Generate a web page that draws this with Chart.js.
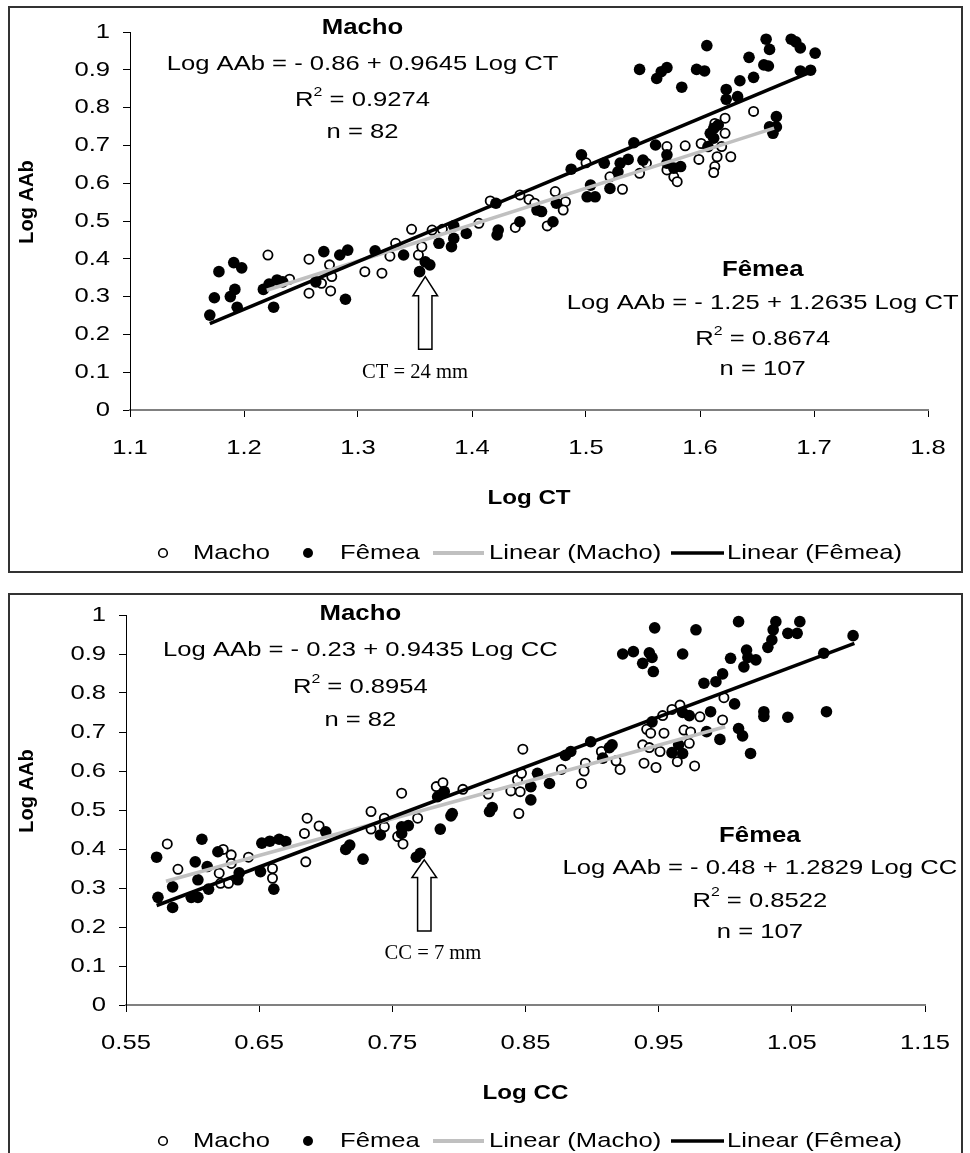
<!DOCTYPE html>
<html>
<head>
<meta charset="utf-8">
<script src="https://cdn.jsdelivr.net/npm/chart.js@4.4.1/dist/chart.umd.min.js"></script>
<style>
  body { margin: 0; background: #fff; }
  canvas { display: block; }
</style>
</head>
<body>
<canvas id="ctChart" width="970" height="583"></canvas>
<canvas id="ccChart" width="970" height="570"></canvas>
<script>
// Log AAb against Log CT (carapace width) and Log CC (carapace length)
const aabTicks = ['0', '0.1', '0.2', '0.3', '0.4', '0.5', '0.6', '0.7', '0.8', '0.9', '1']
const ctTicks = ['1.1', '1.2', '1.3', '1.4', '1.5', '1.6', '1.7', '1.8']
const ccTicks = ['0.55', '0.65', '0.75', '0.85', '0.95', '1.05', '1.15']

// [Log CT, Log AAb]
const ctMacho = [
  [1.221, 0.410], [1.240, 0.346], [1.257, 0.399], [1.257, 0.309], [1.275, 0.384], [1.277, 0.353],
  [1.276, 0.315], [1.268, 0.335], [1.306, 0.366], [1.321, 0.362], [1.333, 0.441], [1.328, 0.407],
  [1.353, 0.410], [1.347, 0.478], [1.356, 0.432], [1.365, 0.476], [1.374, 0.478], [1.406, 0.494],
  [1.416, 0.553], [1.442, 0.569], [1.450, 0.557], [1.438, 0.483], [1.647, 0.790], [1.622, 0.772],
  [1.613, 0.758], [1.622, 0.732], [1.619, 0.697], [1.615, 0.670], [1.627, 0.670], [1.613, 0.644],
  [1.612, 0.628], [1.601, 0.705], [1.587, 0.699], [1.599, 0.663], [1.571, 0.697], [1.577, 0.617],
  [1.580, 0.604], [1.571, 0.635], [1.547, 0.626], [1.553, 0.653], [1.532, 0.584], [1.521, 0.617],
  [1.500, 0.654], [1.473, 0.578], [1.482, 0.551], [1.480, 0.529], [1.455, 0.547], [1.466, 0.487]
]
const ctFemea = [
  [1.170, 0.251], [1.174, 0.297], [1.178, 0.366], [1.191, 0.390], [1.198, 0.376], [1.188, 0.300],
  [1.192, 0.319], [1.194, 0.272], [1.217, 0.319], [1.222, 0.333], [1.229, 0.344], [1.234, 0.339],
  [1.226, 0.272], [1.263, 0.339], [1.270, 0.419], [1.284, 0.410], [1.291, 0.423], [1.289, 0.293],
  [1.315, 0.421], [1.340, 0.410], [1.354, 0.366], [1.359, 0.392], [1.363, 0.384], [1.371, 0.441],
  [1.382, 0.432], [1.395, 0.467], [1.422, 0.463], [1.384, 0.487], [1.384, 0.454], [1.421, 0.547],
  [1.423, 0.476], [1.442, 0.498], [1.457, 0.529], [1.547, 0.901], [1.562, 0.877], [1.566, 0.895],
  [1.571, 0.906], [1.584, 0.854], [1.597, 0.901], [1.604, 0.897], [1.606, 0.964], [1.623, 0.848],
  [1.623, 0.822], [1.633, 0.829], [1.635, 0.871], [1.643, 0.933], [1.647, 0.880], [1.656, 0.913],
  [1.660, 0.910], [1.658, 0.981], [1.661, 0.954], [1.680, 0.981], [1.684, 0.974], [1.688, 0.958],
  [1.701, 0.944], [1.688, 0.897], [1.697, 0.899], [1.667, 0.776], [1.661, 0.749], [1.667, 0.749],
  [1.664, 0.732], [1.612, 0.745], [1.616, 0.754], [1.609, 0.732], [1.612, 0.719], [1.607, 0.697],
  [1.542, 0.707], [1.561, 0.701], [1.571, 0.675], [1.571, 0.653], [1.550, 0.661], [1.537, 0.663],
  [1.530, 0.653], [1.528, 0.630], [1.496, 0.675], [1.487, 0.637], [1.516, 0.653], [1.504, 0.595],
  [1.501, 0.564], [1.508, 0.564], [1.521, 0.586], [1.583, 0.644], [1.577, 0.640], [1.474, 0.547],
  [1.461, 0.525], [1.471, 0.498]
]

// [Log CC, Log AAb]
const ccMacho = [
  [0.581, 0.413], [0.589, 0.348], [0.623, 0.399], [0.629, 0.385], [0.620, 0.338], [0.621, 0.312],
  [0.627, 0.312], [0.629, 0.363], [0.642, 0.379], [0.660, 0.350], [0.660, 0.325], [0.685, 0.367],
  [0.686, 0.479], [0.695, 0.459], [0.684, 0.440], [0.734, 0.496], [0.734, 0.451], [0.744, 0.457],
  [0.744, 0.479], [0.754, 0.432], [0.758, 0.413], [0.769, 0.479], [0.757, 0.543], [0.783, 0.560],
  [0.788, 0.570], [0.803, 0.553], [0.822, 0.541], [0.844, 0.577], [0.848, 0.656], [0.839, 0.549],
  [0.845, 0.491], [0.999, 0.788], [0.998, 0.731], [0.981, 0.739], [0.966, 0.769], [0.960, 0.758],
  [0.953, 0.742], [0.941, 0.707], [0.944, 0.697], [0.954, 0.697], [0.969, 0.705], [0.974, 0.700],
  [0.973, 0.671], [0.938, 0.667], [0.943, 0.660], [0.951, 0.650], [0.964, 0.624], [0.977, 0.613],
  [0.939, 0.620], [0.948, 0.609], [0.921, 0.604], [0.918, 0.626], [0.907, 0.650], [0.895, 0.620],
  [0.894, 0.600], [0.892, 0.568], [0.877, 0.604], [0.846, 0.547], [0.854, 0.560], [0.847, 0.594]
]
const ccFemea = [
  [0.573, 0.379], [0.574, 0.276], [0.585, 0.250], [0.585, 0.303], [0.602, 0.367], [0.604, 0.321],
  [0.599, 0.276], [0.604, 0.276], [0.607, 0.425], [0.611, 0.355], [0.612, 0.297], [0.619, 0.393],
  [0.635, 0.339], [0.634, 0.321], [0.651, 0.342], [0.661, 0.297], [0.652, 0.415], [0.658, 0.420],
  [0.665, 0.425], [0.670, 0.419], [0.700, 0.444], [0.715, 0.399], [0.718, 0.410], [0.728, 0.374],
  [0.741, 0.436], [0.757, 0.457], [0.762, 0.460], [0.757, 0.440], [0.768, 0.379], [0.771, 0.389],
  [0.786, 0.451], [0.784, 0.534], [0.789, 0.547], [0.795, 0.491], [0.794, 0.485], [0.823, 0.496],
  [0.825, 0.506], [0.854, 0.560], [0.854, 0.526], [0.947, 0.967], [0.978, 0.962], [1.010, 0.983],
  [1.038, 0.983], [1.056, 0.983], [1.036, 0.962], [1.035, 0.936], [1.032, 0.917], [1.047, 0.953],
  [1.054, 0.953], [1.096, 0.947], [1.074, 0.902], [0.923, 0.900], [0.931, 0.906], [0.943, 0.903],
  [0.945, 0.891], [0.938, 0.876], [0.946, 0.855], [0.968, 0.900], [1.004, 0.889], [1.016, 0.910],
  [1.017, 0.891], [1.023, 0.885], [1.014, 0.867], [0.998, 0.849], [0.993, 0.829], [0.984, 0.825],
  [1.007, 0.772], [0.989, 0.752], [1.029, 0.752], [1.029, 0.740], [1.047, 0.738], [1.076, 0.752],
  [1.010, 0.709], [1.013, 0.690], [1.019, 0.645], [0.996, 0.681], [0.986, 0.701], [0.973, 0.742],
  [0.968, 0.750], [0.945, 0.726], [0.965, 0.667], [0.968, 0.645], [0.960, 0.647], [0.915, 0.667],
  [0.913, 0.660], [0.899, 0.675], [0.884, 0.650], [0.880, 0.640], [0.868, 0.568], [0.859, 0.594],
  [0.908, 0.633]
]

// regressions: [intercept, slope], r2, n, fitted x range
const ctMachoFit = [-0.86, 0.9645], ctMachoR2 = '0.9274', ctMachoN = 82, ctMachoRange = [1.22, 1.665]
const ctFemeaFit = [-1.25, 1.2635], ctFemeaR2 = '0.8674', ctFemeaN = 107, ctFemeaRange = [1.17, 1.70]
const ccMachoFit = [-0.23, 0.9435], ccMachoR2 = '0.8954', ccMachoN = 82, ccMachoRange = [0.58, 1.0]
const ccFemeaFit = [-0.48, 1.2829], ccFemeaR2 = '0.8522', ccFemeaN = 107, ccFemeaRange = [0.573, 1.097]

const SANS = '"Liberation Sans", Arial, sans-serif'
const STRETCH = 1.22

// text is drawn a little wide, like the old spreadsheet export
function text(ctx, str, x, y, font, align = 'left', sx = STRETCH) {
  ctx.save()
  ctx.font = font
  ctx.textBaseline = 'middle'
  ctx.fillStyle = '#000'
  const w = ctx.measureText(str).width * sx
  const left = align === 'center' ? x - w / 2 : align === 'right' ? x - w : x
  ctx.translate(left, y)
  ctx.scale(sx, 1)
  ctx.fillText(str, 0, 0)
  ctx.restore()
}

function rSquared(ctx, value, cx, y) {
  const parts = [['R', 21, 0], ['2', 13, -8], [' = ' + value, 21, 0]]
  ctx.save()
  const widths = parts.map(([s, size]) => {
    ctx.font = size + 'px ' + SANS
    return ctx.measureText(s).width * STRETCH
  })
  ctx.restore()
  let x = cx - widths.reduce((a, b) => a + b, 0) / 2
  parts.forEach(([s, size, dy], i) => {
    text(ctx, s, x, y + dy, size + 'px ' + SANS)
    x += widths[i]
  })
}

function equation(fit, v) {
  return 'Log AAb = - ' + Math.abs(fit[0]).toFixed(2) + ' + ' + fit[1] + ' Log ' + v
}

function textLayer(c) {
  return {
    id: 'textLayer',
    afterDraw(chart) {
      const ctx = chart.ctx
      const xs = chart.scales.x, ys = chart.scales.y
      const X = v => xs.getPixelForValue(v), Y = v => ys.getPixelForValue(v)
      const a = chart.chartArea
      const REG = '21px ' + SANS, BOLD = 'bold 21px ' + SANS

      ctx.save()
      ctx.strokeStyle = '#333'
      ctx.lineWidth = 2
      ctx.strokeRect(...c.frame)
      ctx.restore()

      xs.ticks.forEach((t, i) => text(ctx, c.xLabels[i], X(t.value), a.bottom + 38, REG, 'center'))
      ys.ticks.forEach((t, i) => text(ctx, aabTicks[i], a.left - 20, Y(t.value), REG, 'right'))

      text(ctx, c.xTitle, (a.left + a.right) / 2, a.bottom + 88, BOLD, 'center', 1.15)
      ctx.save()
      ctx.translate(27, (a.top + a.bottom) / 2 - 19)
      ctx.rotate(-Math.PI / 2)
      text(ctx, 'Log AAb', 0, 0, 'bold 20px ' + SANS, 'center', 1)
      ctx.restore()

      // equation blocks
      c.blocks.forEach(b => {
        const cx = X(b.x)
        text(ctx, b.title, cx, Y(b.y[0]), 'bold 22px ' + SANS, 'center', 1.17)
        text(ctx, equation(b.fit, c.v), cx, Y(b.y[1]), REG, 'center')
        rSquared(ctx, b.r2, cx, Y(b.y[2]))
        text(ctx, 'n = ' + b.n, cx, Y(b.y[3]), REG, 'center')
      })

      // size-at-maturity arrow
      const ar = c.arrow
      const ax = X(ar.x), tip = Y(ar.tip), neck = Y(ar.neck), base = Y(ar.base)
      ctx.save()
      ctx.beginPath()
      ctx.moveTo(ax, tip)
      ctx.lineTo(ax + 12.3, neck)
      ctx.lineTo(ax + 6.7, neck)
      ctx.lineTo(ax + 6.7, base)
      ctx.lineTo(ax - 6.7, base)
      ctx.lineTo(ax - 6.7, neck)
      ctx.lineTo(ax - 12.3, neck)
      ctx.closePath()
      ctx.fillStyle = '#fff'
      ctx.fill()
      ctx.strokeStyle = '#000'
      ctx.lineWidth = 1.5
      ctx.stroke()
      ctx.restore()
      text(ctx, ar.label, X(ar.labelX), Y(ar.labelY), '20px "Liberation Serif", "Times New Roman", serif', 'center', 1.03)

      // legend
      const ly = c.legendY
      const ds = chart.data.datasets
      ctx.save()
      ctx.beginPath()
      ctx.arc(163, ly, 4.3, 0, Math.PI * 2)
      ctx.fillStyle = '#fff'
      ctx.fill()
      ctx.lineWidth = 1.6
      ctx.strokeStyle = '#000'
      ctx.stroke()
      ctx.beginPath()
      ctx.arc(308, ly, 5, 0, Math.PI * 2)
      ctx.fillStyle = '#000'
      ctx.fill()
      ctx.lineWidth = 4
      ctx.strokeStyle = '#c0c0c0'
      ctx.beginPath(); ctx.moveTo(433, ly); ctx.lineTo(484, ly); ctx.stroke()
      ctx.lineWidth = 3.5
      ctx.strokeStyle = '#000'
      ctx.beginPath(); ctx.moveTo(671, ly); ctx.lineTo(724, ly); ctx.stroke()
      ctx.restore()
      text(ctx, ds[3].label, 193, ly, REG)
      text(ctx, ds[2].label, 340, ly, REG)
      text(ctx, ds[1].label, 489, ly, REG)
      text(ctx, ds[0].label, 727, ly, REG)
    }
  }
}

function buildChart(id, c) {
  const canvas = document.getElementById(id)
  const W = canvas.width, H = canvas.height
  const trend = (fit, range) => range.map(x => ({ x, y: fit[0] + fit[1] * x }))
  const pts = arr => arr.map(([x, y]) => ({ x, y }))
  const axisGrid = { drawOnChartArea: false, tickLength: 7, color: '#000', lineWidth: 1 }

  return new Chart(canvas, {
    type: 'scatter',
    data: {
      datasets: [
        { label: 'Linear (Fêmea)', type: 'line', data: trend(c.femeaFit, c.femeaRange), borderColor: '#000', borderWidth: 3.5, pointRadius: 0, fill: false, order: 0 },
        { label: 'Linear (Macho)', type: 'line', data: trend(c.machoFit, c.machoRange), borderColor: '#c0c0c0', borderWidth: 3.5, pointRadius: 0, fill: false, order: 1 },
        { label: 'Fêmea', data: pts(c.femea), backgroundColor: '#000', borderWidth: 0, pointRadius: 5.8, order: 2 },
        { label: 'Macho', data: pts(c.macho), backgroundColor: '#fff', borderColor: '#000', borderWidth: 1.8, pointRadius: 4.6, order: 3 }
      ]
    },
    options: {
      responsive: false,
      animation: false,
      devicePixelRatio: 1,
      layout: { padding: { left: 0, top: c.area.top, right: W - c.area.right, bottom: 0 } },
      plugins: { legend: { display: false }, tooltip: { enabled: false } },
      scales: {
        x: {
          type: 'linear', min: c.xMin, max: c.xMax,
          ticks: { stepSize: 0.1, display: false },
          grid: axisGrid,
          border: { color: '#808080', width: 2 },
          afterFit: s => { s.height = H - c.area.bottom }
        },
        y: {
          min: 0, max: 1,
          ticks: { stepSize: 0.1, display: false },
          grid: axisGrid,
          border: { color: '#000', width: 1 },
          afterFit: s => { s.width = c.area.left }
        }
      }
    },
    plugins: [textLayer(c)]
  })
}

buildChart('ctChart', {
  macho: ctMacho, femea: ctFemea,
  machoFit: ctMachoFit, femeaFit: ctFemeaFit,
  machoRange: ctMachoRange, femeaRange: ctFemeaRange,
  xMin: 1.1, xMax: 1.8, xLabels: ctTicks, xTitle: 'Log CT', v: 'CT',
  area: { left: 130, right: 928, top: 32, bottom: 410 },
  frame: [9, 7, 953, 565],
  legendY: 553,
  blocks: [
    { title: 'Macho', x: 1.304, y: [1.011, 0.915, 0.820, 0.735], fit: ctMachoFit, r2: ctMachoR2, n: ctMachoN },
    { title: 'Fêmea', x: 1.655, y: [0.370, 0.283, 0.188, 0.108], fit: ctFemeaFit, r2: ctFemeaR2, n: ctFemeaN }
  ],
  arrow: { x: 1.359, tip: 0.353, neck: 0.302, base: 0.161, label: 'CT = 24 mm', labelX: 1.350, labelY: 0.098 }
})

buildChart('ccChart', {
  macho: ccMacho, femea: ccFemea,
  machoFit: ccMachoFit, femeaFit: ccFemeaFit,
  machoRange: ccMachoRange, femeaRange: ccFemeaRange,
  xMin: 0.55, xMax: 1.15, xLabels: ccTicks, xTitle: 'Log CC', v: 'CC',
  area: { left: 126, right: 925, top: 32, bottom: 422 },
  frame: [9, 11, 953, 600],
  legendY: 558,
  blocks: [
    { title: 'Macho', x: 0.726, y: [1.003, 0.910, 0.815, 0.731], fit: ccMachoFit, r2: ccMachoR2, n: ccMachoN },
    { title: 'Fêmea', x: 1.026, y: [0.433, 0.351, 0.267, 0.187], fit: ccFemeaFit, r2: ccFemeaR2, n: ccFemeaN }
  ],
  arrow: { x: 0.774, tip: 0.372, neck: 0.327, base: 0.190, label: 'CC = 7 mm', labelX: 0.7805, labelY: 0.131 }
})
</script>
</body>
</html>
